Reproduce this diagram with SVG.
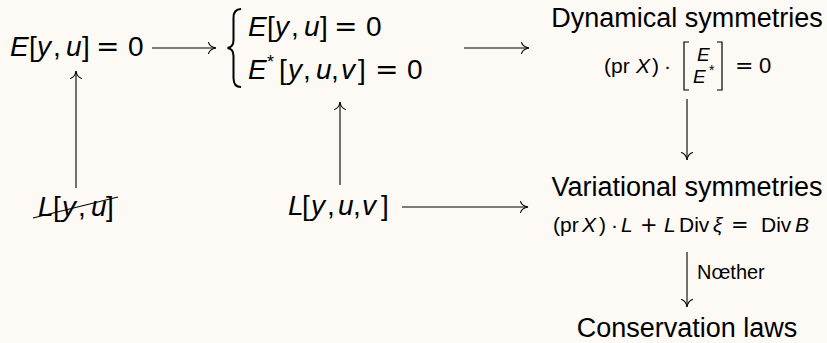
<svg xmlns="http://www.w3.org/2000/svg" width="827" height="343" viewBox="0 0 827 343">
<style>
.t{font-family:"Liberation Sans",Arial,sans-serif;fill:#000}
.i{font-style:italic}
.op{font-family:"DejaVu Sans",sans-serif}
.big{font-size:28px}
.hd{font-size:27px}
.f{font-size:21px}
.c{fill:none;stroke:#000;stroke-width:1.1}
.br{fill:none;stroke:#000;stroke-width:1.2}
</style>
<defs>
<marker id="to" markerWidth="12" markerHeight="14" refX="10" refY="7" orient="auto" markerUnits="userSpaceOnUse" viewBox="0 0 12 14">
<path d="M2.5,1.5 C3.5,4.5 7,6.5 10,7 C7,7.5 3.5,9.5 2.5,12.5" fill="none" stroke="#000" stroke-width="1.1" stroke-linecap="round"/>
</marker>
</defs>
<rect width="827" height="343" fill="#fdf9f5"/>

<g id="n-eq">
<text class="t big" y="56"><tspan class="i" x="10">E</tspan><tspan x="29">[</tspan><tspan class="i" x="37">y</tspan><tspan x="53">,</tspan><tspan class="i" x="66">u</tspan><tspan x="82">]</tspan><tspan class="op" x="96">=</tspan><tspan x="128">0</tspan></text>
</g>

<g id="n-system">
<path d="M241,9 C235.5,9 233.5,12 233.5,18 L233.5,40 C233.5,45 231,47.5 227.5,48 C231,48.5 233.5,51 233.5,56 L233.5,78 C233.5,84 235.5,87 241,87" fill="none" stroke="#000" stroke-width="2"/>
<text class="t big" y="36"><tspan class="i" x="248">E</tspan><tspan x="267">[</tspan><tspan class="i" x="275">y</tspan><tspan x="291">,</tspan><tspan class="i" x="304">u</tspan><tspan x="320">]</tspan><tspan class="op" x="334">=</tspan><tspan x="366">0</tspan></text>
<text class="t big" y="79"><tspan class="i" x="248">E</tspan><tspan x="267" y="68" font-size="18">*</tspan><tspan x="279" y="79">[</tspan><tspan class="i" x="288">y</tspan><tspan x="303">,</tspan><tspan class="i" x="316">u</tspan><tspan x="331">,</tspan><tspan class="i" x="341">v</tspan><tspan x="358">]</tspan><tspan class="op" x="375">=</tspan><tspan x="407">0</tspan></text>
</g>

<g id="n-dyn">
<text class="t hd" x="687" y="27" text-anchor="middle">Dynamical symmetries</text>
<text class="t f" y="73"><tspan x="604">(</tspan><tspan x="611">pr</tspan><tspan class="i" x="636">X</tspan><tspan x="652">)</tspan><tspan x="664">·</tspan><tspan class="op" x="735" font-size="22">=</tspan><tspan x="759" font-size="22">0</tspan></text>
<path class="br" d="M689,42 H684 V90 H689 M717,42 H722 V90 H717"/>
<text class="t i" font-size="19" x="697" y="61">E</text>
<text class="t" font-size="19" y="83"><tspan class="i" x="693">E</tspan><tspan x="709" y="75" font-size="14">*</tspan></text>
</g>

<g id="n-L-struck">
<text class="t big" y="216"><tspan class="i" x="38">L</tspan><tspan x="53">[</tspan><tspan class="i" x="62">y</tspan><tspan x="78">,</tspan><tspan class="i" x="91">u</tspan><tspan x="106">]</tspan></text>
<line x1="33" y1="218" x2="118" y2="197" stroke="#000" stroke-width="1.1"/>
</g>

<g id="n-L">
<text class="t big" y="215"><tspan class="i" x="288">L</tspan><tspan x="302">[</tspan><tspan class="i" x="311">y</tspan><tspan x="327">,</tspan><tspan class="i" x="338">u</tspan><tspan x="353">,</tspan><tspan class="i" x="362">v</tspan><tspan x="381">]</tspan></text>
</g>

<g id="n-var">
<text class="t hd" x="687" y="196" text-anchor="middle">Variational symmetries</text>
<text class="t f" y="232"><tspan x="553">(</tspan><tspan x="560">pr</tspan><tspan class="i" x="582">X</tspan><tspan x="599">)</tspan><tspan x="611">·</tspan><tspan class="i" x="621">L</tspan><tspan class="op" x="640">+</tspan><tspan class="i" x="664">L</tspan><tspan x="679">Div</tspan><tspan class="i" x="713">ξ</tspan><tspan class="op" x="731">=</tspan><tspan x="761">Div</tspan><tspan class="i" x="795">B</tspan></text>
</g>

<g id="n-cons">
<text class="t hd" x="687" y="337" text-anchor="middle">Conservation laws</text>
</g>

<g id="connectors">
<line class="c" x1="152" y1="48" x2="216" y2="48" marker-end="url(#to)"/>
<line class="c" x1="464" y1="48" x2="529" y2="48" marker-end="url(#to)"/>
<line class="c" x1="402" y1="207" x2="528" y2="207" marker-end="url(#to)"/>
<line class="c" x1="76" y1="188" x2="76" y2="71" marker-end="url(#to)"/>
<line class="c" x1="340" y1="185" x2="340" y2="102" marker-end="url(#to)"/>
<line class="c" x1="687" y1="99" x2="687" y2="160" marker-end="url(#to)"/>
<line class="c" x1="687" y1="252" x2="687" y2="307" marker-end="url(#to)"/>
<text class="t" font-size="20" x="697" y="279">Nœther</text>
</g>
</svg>
